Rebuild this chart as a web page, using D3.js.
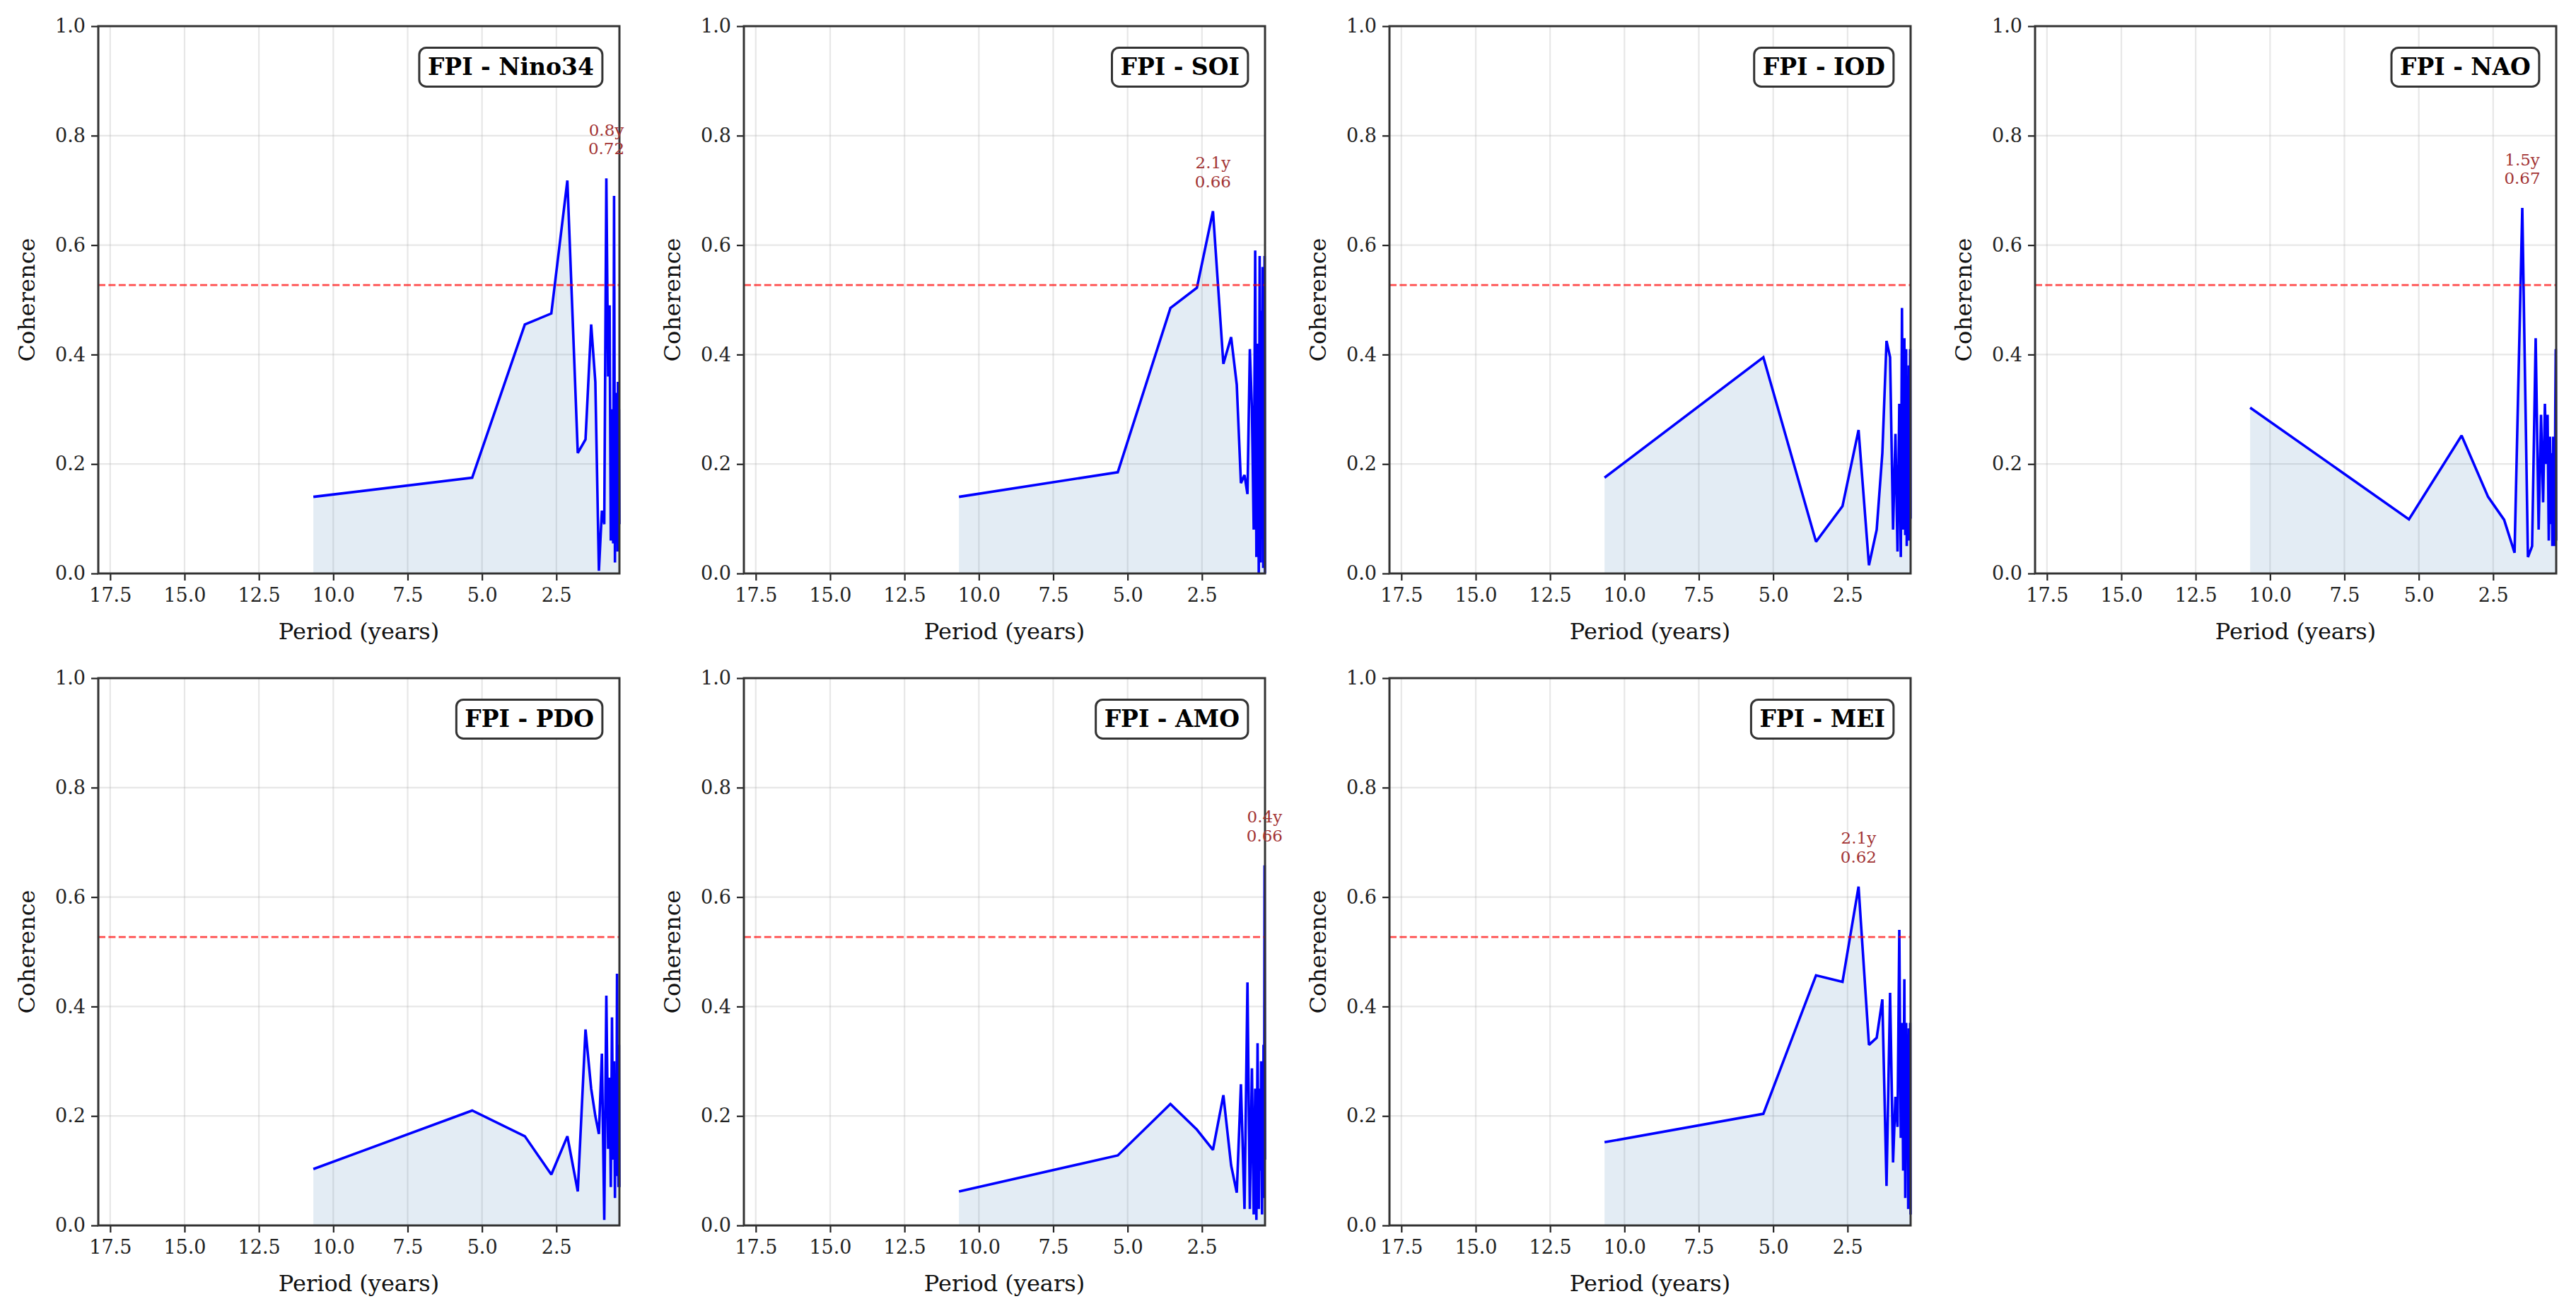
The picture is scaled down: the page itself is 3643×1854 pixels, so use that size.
<!DOCTYPE html>
<html><head><meta charset="utf-8">
<script src="https://cdn.jsdelivr.net/npm/d3@7"></script>
<style>html,body{margin:0;padding:0;background:#fff}svg{display:block}</style>
</head><body>
<script>
// ---------------- data ----------------
const indices = ["Nino34", "SOI", "IOD", "NAO", "PDO", "AMO", "MEI"];
const periods = [10.67, 5.33, 3.56, 2.67, 2.13, 1.78, 1.52, 1.33, 1.19, 1.07, 0.97, 0.89, 0.82, 0.76,
                 0.71, 0.67, 0.63, 0.59, 0.56, 0.53, 0.51, 0.48, 0.46, 0.44, 0.43, 0.41, 0.395, 0.381];
const cohNino34 = [0.14, 0.175, 0.455, 0.475, 0.718, 0.22, 0.245, 0.455, 0.35, 0.005, 0.115, 0.09, 0.722, 0.36,
                   0.49, 0.06, 0.30, 0.055, 0.69, 0.02, 0.33, 0.07, 0.25, 0.04, 0.35, 0.06, 0.30, 0.09];
const cohSOI = [0.14, 0.185, 0.485, 0.522, 0.662, 0.383, 0.432, 0.345, 0.165, 0.18, 0.145, 0.41, 0.30, 0.08,
                0.59, 0.03, 0.42, 0.0, 0.58, 0.02, 0.48, 0.10, 0.56, 0.01, 0.35, 0.05, 0.58, 0.0];
const cohIOD = [0.175, 0.395, 0.058, 0.123, 0.262, 0.015, 0.08, 0.22, 0.425, 0.395, 0.08, 0.255, 0.04, 0.31,
                0.03, 0.485, 0.08, 0.43, 0.07, 0.41, 0.05, 0.30, 0.08, 0.38, 0.06, 0.28, 0.41, 0.10];
const cohNAO = [0.303, 0.099, 0.252, 0.14, 0.098, 0.038, 0.668, 0.03, 0.05, 0.43, 0.08, 0.29, 0.13, 0.31,
                0.20, 0.29, 0.06, 0.25, 0.09, 0.22, 0.05, 0.25, 0.07, 0.18, 0.05, 0.30, 0.41, 0.06];
const cohPDO = [0.103, 0.21, 0.163, 0.093, 0.163, 0.062, 0.358, 0.25, 0.20, 0.167, 0.314, 0.01, 0.42, 0.14,
                0.27, 0.07, 0.38, 0.12, 0.30, 0.05, 0.27, 0.14, 0.46, 0.09, 0.25, 0.07, 0.33, 0.07];
const cohAMO = [0.062, 0.128, 0.222, 0.175, 0.138, 0.238, 0.11, 0.06, 0.258, 0.03, 0.444, 0.03, 0.287, 0.02,
                0.25, 0.01, 0.333, 0.03, 0.25, 0.10, 0.30, 0.02, 0.22, 0.05, 0.33, 0.10, 0.658, 0.12];
const cohMEI = [0.152, 0.204, 0.457, 0.445, 0.619, 0.33, 0.343, 0.413, 0.072, 0.425, 0.115, 0.235, 0.18, 0.54,
                0.16, 0.37, 0.10, 0.45, 0.05, 0.37, 0.24, 0.28, 0.03, 0.36, 0.12, 0.10, 0.37, 0.02];
const series = [cohNino34, cohSOI, cohIOD, cohNAO, cohPDO, cohAMO, cohMEI];
const significance = 0.527;
const xTicks = [17.5, 15.0, 12.5, 10.0, 7.5, 5.0, 2.5];
const yTicks = [0.0, 0.2, 0.4, 0.6, 0.8, 1.0];
const xLabel = "Period (years)";
const yLabel = "Coherence";

// ---------------- layout ----------------
const W = 3643, H = 1854;
const colLeft = [139, 1052, 1965, 2878];
const rowTop = [37, 959];
const pw = 737, ph = 774;
const serif = "'DejaVu Serif', serif";

const svg = d3.select("body").append("svg").attr("width", W).attr("height", H)
  .style("background", "#fff");

series.forEach((vals, i) => {
  const c = i % 4, r = Math.floor(i / 4);
  const g = svg.append("g").attr("transform", `translate(${colLeft[c]},${rowTop[r]})`);
  const x = d3.scaleLinear().domain([17.9, 0.38]).range([0, pw]);
  const y = d3.scaleLinear().domain([0, 1]).range([ph, 0]);
  const data = periods.map((p, k) => ({p, v: vals[k]}));

  // grid
  g.append("g").selectAll("line").data(xTicks).join("line")
    .attr("x1", d => x(d)).attr("x2", d => x(d)).attr("y1", 0).attr("y2", ph)
    .attr("stroke", "#b0b0b0").attr("stroke-opacity", 0.3).attr("stroke-width", 2.2);
  g.append("g").selectAll("line").data(yTicks).join("line")
    .attr("y1", d => y(d)).attr("y2", d => y(d)).attr("x1", 0).attr("x2", pw)
    .attr("stroke", "#b0b0b0").attr("stroke-opacity", 0.3).attr("stroke-width", 2.2);

  // fill + line
  g.append("path").datum(data)
    .attr("d", d3.area().x(d => x(d.p)).y0(y(0)).y1(d => y(d.v)))
    .attr("fill", "steelblue").attr("fill-opacity", 0.15);
  g.append("path").datum(data)
    .attr("d", d3.line().x(d => x(d.p)).y(d => y(d.v)))
    .attr("fill", "none").attr("stroke", "#0000ff").attr("stroke-width", 3.6)
    .attr("stroke-linejoin", "miter").attr("stroke-miterlimit", 2);

  // significance line
  g.append("line").attr("x1", 0).attr("x2", pw).attr("y1", y(significance)).attr("y2", y(significance))
    .attr("stroke", "#ff0000").attr("stroke-opacity", 0.7).attr("stroke-width", 2.6)
    .attr("stroke-dasharray", "10,4.4");

  // axes
  const ax = g.append("g").attr("transform", `translate(0,${ph})`)
    .call(d3.axisBottom(x).tickValues(xTicks).tickFormat(d3.format(".1f")).tickSize(10).tickPadding(11));
  const ay = g.append("g")
    .call(d3.axisLeft(y).tickValues(yTicks).tickFormat(d3.format(".1f")).tickSize(10).tickPadding(8));
  [ax, ay].forEach(a => {
    a.select(".domain").remove();
    a.selectAll(".tick line").attr("stroke", "#222").attr("stroke-width", 2.2);
    a.selectAll(".tick text").attr("font-family", serif).attr("font-size", 27).attr("fill", "#222");
  });

  // spines
  g.append("rect").attr("x", 0).attr("y", 0).attr("width", pw).attr("height", ph)
    .attr("fill", "none").attr("stroke", "#333").attr("stroke-width", 3);

  // axis labels
  g.append("text").attr("x", pw / 2).attr("y", ph + 93).attr("text-anchor", "middle")
    .attr("font-family", serif).attr("font-size", 32).attr("fill", "#111").text(xLabel);
  g.append("text").attr("transform", `translate(-90,${ph / 2}) rotate(-90)`).attr("text-anchor", "middle")
    .attr("font-family", serif).attr("font-size", 32).attr("fill", "#111").text(yLabel);

  // title box
  const tt = g.append("text").attr("x", pw * 0.951).attr("y", ph * 0.05).attr("dy", "0.93em")
    .attr("text-anchor", "end").attr("font-family", serif).attr("font-weight", "bold")
    .attr("font-size", 33).attr("fill", "#000").text(`FPI - ${indices[i]}`);
  const bb = tt.node().getBBox();
  const padX = 12, padY = 8;
  g.insert("rect", () => tt.node())
    .attr("x", bb.x - padX).attr("y", bb.y - padY).attr("width", bb.width + 2 * padX).attr("height", bb.height + 2 * padY)
    .attr("rx", 10).attr("fill", "#fff").attr("stroke", "#333").attr("stroke-width", 3);

  // peak annotation
  const mi = d3.maxIndex(vals);
  if (vals[mi] > significance) {
    const px = x(periods[mi]), py = y(vals[mi]);
    const at = g.append("text").attr("x", px).attr("y", py - 34).attr("text-anchor", "middle")
      .attr("font-family", serif).attr("font-size", 23).attr("fill", "#a23333");
    at.append("tspan").attr("x", px).attr("dy", "-1.15em").text(`${periods[mi].toFixed(1)}y`);
    at.append("tspan").attr("x", px).attr("dy", "1.15em").text(vals[mi].toFixed(2));
  }
});
</script>
</body></html>
